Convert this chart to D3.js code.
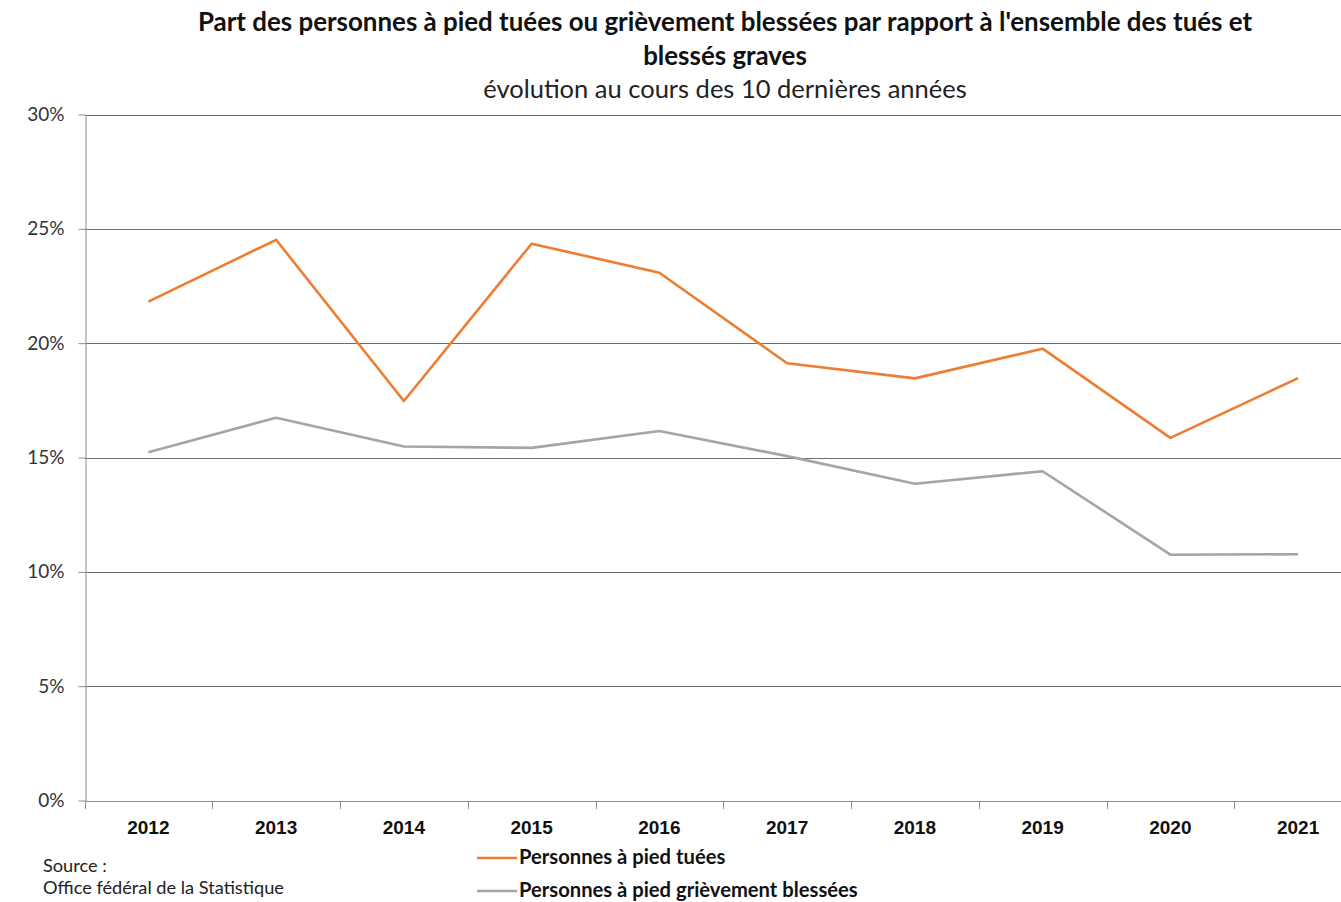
<!DOCTYPE html>
<html><head><meta charset="utf-8">
<script src="https://cdn.jsdelivr.net/npm/d3@7"></script>
<style>body{margin:0;background:#fff}svg{display:block;font-family:Lato,"Open Sans",sans-serif}</style>
</head><body><svg id="c" width="1341" height="902"></svg>
<script>
const years = ["2012","2013","2014","2015","2016","2017","2018","2019","2020","2021"];
const tuees = [21.82, 24.52, 17.47, 24.35, 23.08, 19.12, 18.46, 19.76, 15.86, 18.47];
const blesses = [15.23, 16.74, 15.48, 15.42, 16.16, 15.06, 13.85, 14.40, 10.75, 10.77];
const yTicks = [0, 5, 10, 15, 20, 25, 30];
const seriesNames = ["Personnes à pied tuées", "Personnes à pied grièvement blessées"];
const colors = ["#ED7D31", "#A5A5A5"];

const svg = d3.select("#c");
const x = d3.scaleBand().domain(years).range([84.5, 1362]);
const y = d3.scaleLinear().domain([0, 30]).range([800.5, 114.5]);

// gridlines
svg.append("g").selectAll("line").data(yTicks.filter(d=>d>0)).join("line")
  .attr("x1", 85).attr("x2", 1341).attr("y1", d=>Math.round(y(d))+0.5).attr("y2", d=>Math.round(y(d))+0.5)
  .attr("stroke", "#6e6e6e").attr("stroke-width", 1);

// y axis
const ya = svg.append("g").attr("transform","translate(85.5,0)")
  .call(d3.axisLeft(y).tickValues(yTicks).tickFormat(d=>d+"%").tickSize(7).tickSizeOuter(0));
ya.select(".domain").attr("stroke","#8c8c8c");
ya.selectAll(".tick line").attr("stroke","#8c8c8c");
ya.selectAll(".tick text").attr("font-size",19).attr("fill","#333").attr("x",-21).attr("font-family","Lato, sans-serif");

// x axis
const xa = svg.append("g").attr("transform","translate(0,"+(Math.round(y(0))+0.5)+")")
  .call(d3.axisBottom(x).tickSize(0).tickSizeOuter(0));
xa.select(".domain").attr("stroke","#8c8c8c").attr("d","M85,0H1341");
xa.selectAll(".tick text").attr("font-size",19).attr("font-weight","bold").attr("fill","#111").attr("dy","1.55em");
// boundary ticks
svg.append("g").selectAll("line").data(years).join("line")
  .attr("x1", d=>Math.round(x(d))+0.5).attr("x2", d=>Math.round(x(d))+0.5)
  .attr("y1", Math.round(y(0))).attr("y2", Math.round(y(0))+8).attr("stroke","#8c8c8c");

// lines
const line = d3.line().x((d,i)=>x(years[i])+x.bandwidth()/2).y(d=>y(d));
[tuees, blesses].forEach((s,i)=>{
  svg.append("path").datum(s).attr("d", line).attr("fill","none")
    .attr("stroke", colors[i]).attr("stroke-width", 2.6).attr("stroke-linejoin","round");
});

// titles
svg.append("text").attr("x",725).attr("y",31).attr("text-anchor","middle")
  .attr("font-size",25.9).attr("font-weight","bold").attr("fill","#111")
  .text("Part des personnes à pied tuées ou grièvement blessées par rapport à l'ensemble des tués et");
svg.append("text").attr("x",725).attr("y",65).attr("text-anchor","middle")
  .attr("font-size",25.9).attr("font-weight","bold").attr("fill","#111").text("blessés graves");
svg.append("text").attr("x",725).attr("y",98).attr("text-anchor","middle")
  .attr("font-size",25.5).attr("fill","#222").text("évolution au cours des 10 dernières années");

// source
svg.append("text").attr("x",43).attr("y",872).attr("font-size",18.2).attr("fill","#222").text("Source :");
svg.append("text").attr("x",43).attr("y",894).attr("font-size",18.2).attr("fill","#222").text("Office fédéral de la Statistique");

// legend
const lg = svg.append("g").selectAll("g").data(seriesNames).join("g")
  .attr("transform",(d,i)=>"translate(477,"+(858+i*33)+")");
lg.append("line").attr("x1",0).attr("x2",40).attr("y1",0).attr("y2",0)
  .attr("stroke",(d,i)=>colors[i]).attr("stroke-width",2.6);
lg.append("text").attr("x",42).attr("y",6).attr("font-size",20.2).attr("font-weight","bold").attr("fill","#111").text(d=>d);
</script></body></html>
